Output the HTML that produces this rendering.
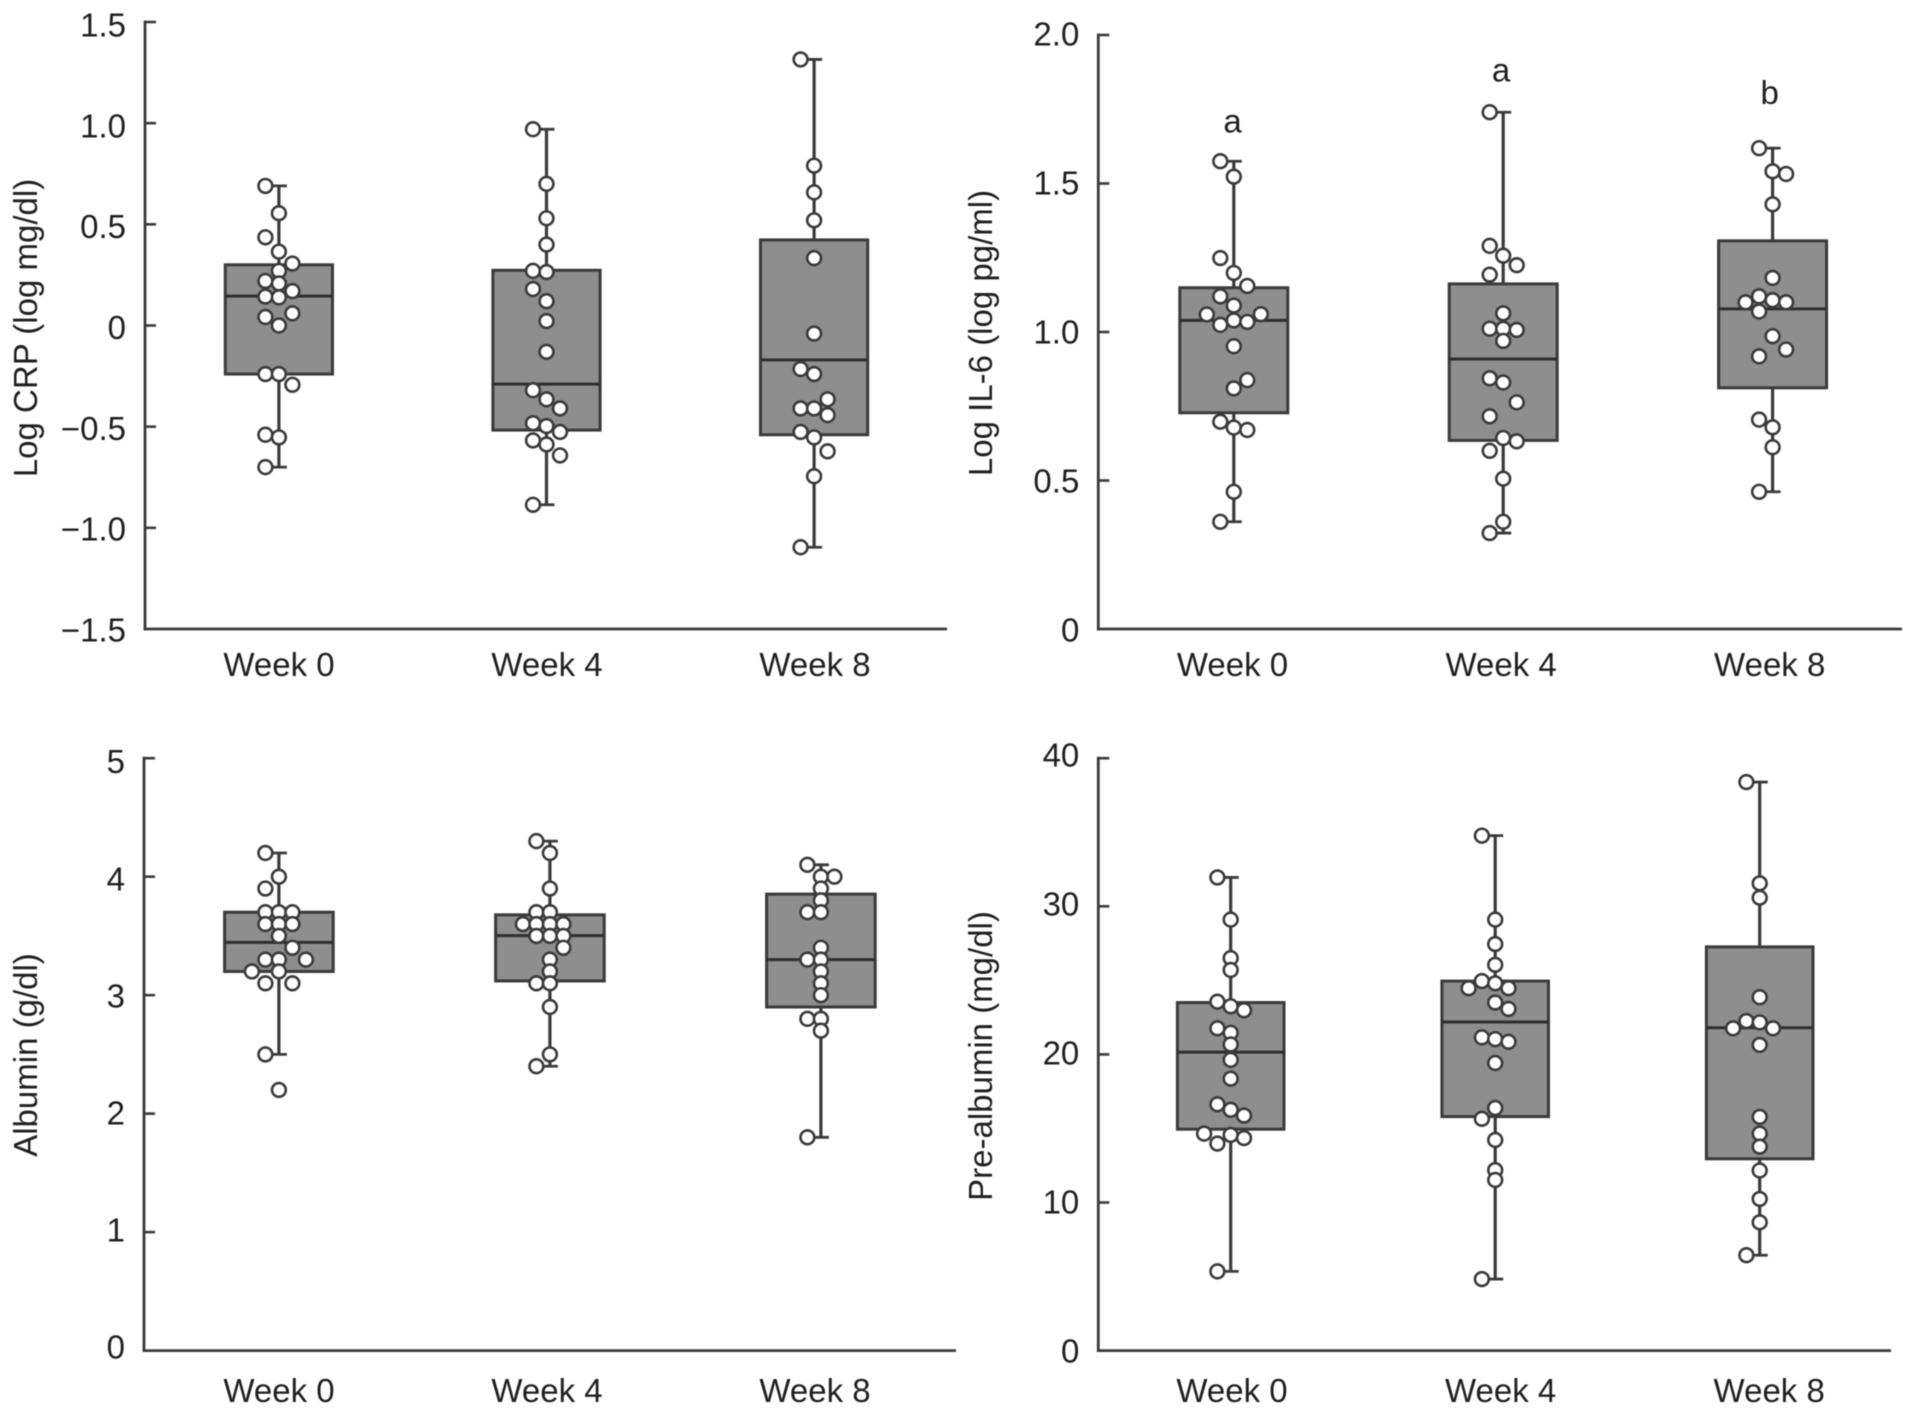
<!DOCTYPE html>
<html lang="en">
<head>
<meta charset="utf-8">
<title>Box plots of CRP, IL-6, albumin and pre-albumin by week</title>
<style>
html,body{margin:0;padding:0;background:#fff;}
svg{display:block;filter:blur(0.5px);}
text{font-family:"Liberation Sans",sans-serif;fill:#1f1f1f;font-size:33px;}
</style>
</head>
<body>
<svg id="figure" xmlns="http://www.w3.org/2000/svg" width="1913" height="1415" viewBox="0 0 1913 1415"></svg>
<script>
const categories = ['Week 0', 'Week 4', 'Week 8'];

// Log CRP
const crpTicks = [-1.5, -1, -0.5, 0, 0.5, 1, 1.5];
const crpTickLabels = ['\u22121.5', '\u22121.0', '\u22120.5', '0', '0.5', '1.0', '1.5'];
const crpQ1 = [-0.24, -0.517, -0.54];
const crpMedian = [0.145, -0.29, -0.17];
const crpQ3 = [0.30, 0.273, 0.423];
const crpWhiskerLow = [-0.70, -0.886, -1.096];
const crpWhiskerHigh = [0.69, 0.97, 1.315];
const crpWeek0 = [0.69, 0.555, 0.436, 0.365, 0.306, 0.27, 0.22, 0.208, 0.17, 0.143, 0.139, 0.06, 0.042, 0, -0.24, -0.24, -0.293, -0.54, -0.553, -0.70];
const crpWeek0Swarm = [-1, 0, -1, 0, 1, 0, -1, 0, 1, -1, 0, 1, -1, 0, -1, 0, 1, -1, 0, -1];
const crpWeek4 = [0.97, 0.70, 0.53, 0.40, 0.27, 0.264, 0.18, 0.12, 0.022, -0.13, -0.32, -0.365, -0.41, -0.483, -0.497, -0.526, -0.568, -0.588, -0.642, -0.886];
const crpWeek4Swarm = [-1, 0, 0, 0, -1, 0, -1, 0, 0, 0, -1, 0, 1, -1, 0, 1, -1, 0, 1, -1];
const crpWeek8 = [1.315, 0.79, 0.658, 0.52, 0.333, -0.04, -0.215, -0.24, -0.365, -0.41, -0.41, -0.443, -0.526, -0.553, -0.622, -0.745, -1.096];
const crpWeek8Swarm = [-1, 0, 0, 0, 0, 0, -1, 0, 1, -1, 0, 1, -1, 0, 1, 0, -1];

// Log IL-6
const il6Ticks = [0, 0.5, 1, 1.5, 2];
const il6TickLabels = ['0', '0.5', '1.0', '1.5', '2.0'];
const il6Q1 = [0.728, 0.635, 0.812];
const il6Median = [1.039, 0.909, 1.078];
const il6Q3 = [1.149, 1.162, 1.307];
const il6WhiskerLow = [0.361, 0.323, 0.462];
const il6WhiskerHigh = [1.575, 1.74, 1.619];
const il6Letters = ['a', 'a', 'b'];
const il6LetterLevels = [1.70, 1.872, 1.796];
const il6Week0 = [1.575, 1.523, 1.249, 1.199, 1.155, 1.12, 1.089, 1.059, 1.06, 1.039, 1.034, 1.024, 0.952, 0.838, 0.81, 0.698, 0.678, 0.67, 0.462, 0.361];
const il6Week0Swarm = [-1, 0, -1, 0, 1, -1, 0, -2, 2, 0, 1, -1, 0, 1, 0, -1, 0, 1, 0, -1];
const il6Week4 = [1.74, 1.29, 1.257, 1.225, 1.193, 1.063, 1.011, 1.011, 1.007, 0.97, 0.844, 0.83, 0.763, 0.716, 0.643, 0.632, 0.60, 0.506, 0.361, 0.323];
const il6Week4Swarm = [-1, -1, 0, 1, -1, 0, -1, 0, 1, 0, -1, 0, 1, -1, 0, 1, -1, 0, 0, -1];
const il6Week8 = [1.619, 1.541, 1.532, 1.43, 1.182, 1.12, 1.107, 1.10, 1.10, 1.069, 0.986, 0.941, 0.918, 0.705, 0.679, 0.612, 0.462];
const il6Week8Swarm = [-1, 0, 1, 0, 0, -1, 0, 1, -2, -1, 0, 1, -1, -1, 0, 0, -1];

// Albumin
const albuminTicks = [0, 1, 2, 3, 4, 5];
const albuminTickLabels = ['0', '1', '2', '3', '4', '5'];
const albuminQ1 = [3.2, 3.12, 2.90];
const albuminMedian = [3.446, 3.503, 3.30];
const albuminQ3 = [3.70, 3.678, 3.853];
const albuminWhiskerLow = [2.5, 2.4, 1.8];
const albuminWhiskerHigh = [4.2, 4.3, 4.1];
const albuminWeek0 = [4.2, 4.0, 3.9, 3.7, 3.7, 3.7, 3.6, 3.6, 3.6, 3.5, 3.4, 3.3, 3.3, 3.3, 3.2, 3.2, 3.1, 3.1, 2.5, 2.2];
const albuminWeek0Swarm = [-1, 0, -1, -1, 0, 1, -1, 0, 1, 0, 1, -1, 0, 2, -2, 0, -1, 1, -1, 0];
const albuminWeek4 = [4.3, 4.2, 3.9, 3.7, 3.7, 3.6, 3.6, 3.6, 3.6, 3.5, 3.5, 3.5, 3.4, 3.3, 3.2, 3.1, 3.1, 2.9, 2.5, 2.4];
const albuminWeek4Swarm = [-1, 0, 0, -1, 0, -2, -1, 0, 1, -1, 0, 1, 1, 0, 0, -1, 0, 0, 0, -1];
const albuminWeek8 = [4.1, 4.0, 4.0, 3.9, 3.8, 3.7, 3.7, 3.4, 3.3, 3.3, 3.2, 3.1, 3.0, 2.8, 2.8, 2.7, 1.8];
const albuminWeek8Swarm = [-1, 0, 1, 0, 0, -1, 0, 0, -1, 0, 0, 0, 0, -1, 0, 0, -1];

// Pre-albumin
const prealbTicks = [0, 10, 20, 30, 40];
const prealbTickLabels = ['0', '10', '20', '30', '40'];
const prealbQ1 = [14.95, 15.8, 12.95];
const prealbMedian = [20.15, 22.19, 21.8];
const prealbQ3 = [23.5, 24.95, 27.26];
const prealbWhiskerLow = [5.35, 4.83, 6.44];
const prealbWhiskerHigh = [31.95, 34.77, 38.39];
const prealbWeek0 = [31.95, 29.1, 26.5, 25.7, 23.56, 23.25, 22.98, 21.76, 21.46, 20.67, 19.63, 18.36, 16.63, 16.26, 15.87, 14.65, 14.56, 14.35, 13.98, 5.35];
const prealbWeek0Swarm = [-1, 0, 0, 0, -1, 0, 1, -1, 0, 0, 0, 0, -1, 0, 1, -2, 0, 1, -1, -1];
const prealbWeek4 = [34.77, 29.1, 27.45, 26.05, 24.95, 24.8, 24.47, 24.47, 23.5, 23.07, 21.15, 21.03, 20.85, 19.42, 16.38, 15.65, 14.22, 12.19, 11.52, 4.83];
const prealbWeek4Swarm = [-1, 0, 0, 0, -1, 0, -2, 1, 0, 1, -1, 0, 1, 0, 0, -1, 0, 0, 0, -1];
const prealbWeek8 = [38.39, 31.55, 30.58, 23.86, 22.25, 22.16, 21.76, 21.76, 20.64, 15.78, 14.65, 13.77, 12.16, 10.24, 8.66, 6.44];
const prealbWeek8Swarm = [-1, 0, 0, 0, -1, 0, -2, 1, 0, 0, 0, 0, 0, 0, 0, -1];

const panels = [
  { key: 'crp', title: 'Log CRP (log mg/dl)', titleX: 37, titleY: 328, axisX: 145, axisEnd: 947, top: 22, bottom: 629,
    dMin: -1.5, dMax: 1.5, c0: 278.9, step: 267.6, half: 53.6, slot: 13.5, labelX0: 279, labelStep: 268, labelBase: 676, dyTop: 14.5, dyBottom: 12.5,
    ticks: crpTicks, tickLabels: crpTickLabels, q1: crpQ1, median: crpMedian, q3: crpQ3, low: crpWhiskerLow, high: crpWhiskerHigh,
    points: [crpWeek0, crpWeek4, crpWeek8], swarm: [crpWeek0Swarm, crpWeek4Swarm, crpWeek8Swarm] },
  { key: 'il6', title: 'Log IL-6 (log pg/ml)', titleX: 992, titleY: 333, axisX: 1098.3, axisEnd: 1902, top: 35, bottom: 629,
    dMin: 0, dMax: 2, c0: 1233.8, step: 269.4, half: 54, slot: 13.5, labelX0: 1232.5, labelStep: 268.6, labelBase: 676, dyTop: 10.5, dyBottom: 12.5,
    ticks: il6Ticks, tickLabels: il6TickLabels, q1: il6Q1, median: il6Median, q3: il6Q3, low: il6WhiskerLow, high: il6WhiskerHigh,
    letters: il6Letters, letterLevels: il6LetterLevels,
    points: [il6Week0, il6Week4, il6Week8], swarm: [il6Week0Swarm, il6Week4Swarm, il6Week8Swarm] },
  { key: 'albumin', title: 'Albumin (g/dl)', titleX: 37, titleY: 1055, axisX: 144, axisEnd: 956, top: 758.2, bottom: 1350.6,
    dMin: 0, dMax: 5, c0: 278.9, step: 271, half: 54.3, slot: 13.5, labelX0: 279, labelStep: 268, labelBase: 1402, dyTop: 15, dyBottom: 8,
    ticks: albuminTicks, tickLabels: albuminTickLabels, q1: albuminQ1, median: albuminMedian, q3: albuminQ3, low: albuminWhiskerLow, high: albuminWhiskerHigh,
    points: [albuminWeek0, albuminWeek4, albuminWeek8], swarm: [albuminWeek0Swarm, albuminWeek4Swarm, albuminWeek8Swarm] },
  { key: 'prealbumin', title: 'Pre-albumin (mg/dl)', titleX: 992, titleY: 1056, axisX: 1098.3, axisEnd: 1891, top: 758.2, bottom: 1350.6,
    dMin: 0, dMax: 40, c0: 1230.7, step: 264.5, half: 53.3, slot: 13.3, labelX0: 1232, labelStep: 268.6, labelBase: 1402, dyTop: 8.5, dyBottom: 12,
    ticks: prealbTicks, tickLabels: prealbTickLabels, q1: prealbQ1, median: prealbMedian, q3: prealbQ3, low: prealbWhiskerLow, high: prealbWhiskerHigh,
    points: [prealbWeek0, prealbWeek4, prealbWeek8], swarm: [prealbWeek0Swarm, prealbWeek4Swarm, prealbWeek8Swarm] }
];

const NS = 'http://www.w3.org/2000/svg';
const INK = '#3a3a3a';
const svg = document.getElementById('figure');

function make(parent, tag, attrs) {
  const node = document.createElementNS(NS, tag);
  for (const k in attrs) node.setAttribute(k, attrs[k]);
  parent.appendChild(node);
  return node;
}

panels.forEach(function (p) {
  const yScale = function (v) { return p.bottom - (v - p.dMin) / (p.dMax - p.dMin) * (p.bottom - p.top); };
  const xScale = function (i) { return p.c0 + i * p.step; };
  const labelDy = function (v) { const f = (v - p.dMin) / (p.dMax - p.dMin); return p.dyBottom + f * (p.dyTop - p.dyBottom); };

  const g = make(svg, 'g', {});
  
  

  const yAxis = make(g, 'line', { x1: p.axisX, x2: p.axisX, y1: p.top - 1.4, y2: p.bottom + 1.4, stroke: INK, 'stroke-width': 2.8 });
  
  

  const xAxis = make(g, 'line', { x1: p.axisX - 1.4, x2: p.axisEnd, y1: p.bottom, y2: p.bottom, stroke: INK, 'stroke-width': 2.8 });
  
  

  p.ticks.forEach(function (t, i) {
    const y = yScale(t);
    if (t !== p.dMin) {
      const tick = make(g, 'line', { x1: p.axisX, x2: p.axisX + 11, y1: y, y2: y, stroke: INK, 'stroke-width': 2.6 });
      
      
    }
    const label = make(g, 'text', { x: p.axisX - 19, y: y + labelDy(t), 'text-anchor': 'end' });
    label.textContent = p.tickLabels[i];
    
    
  });

  const title = make(g, 'text', { x: 0, y: 0, 'text-anchor': 'middle', transform: 'translate(' + p.titleX + ' ' + p.titleY + ') rotate(-90)' });
  title.textContent = p.title;
  
  

  categories.forEach(function (cat, i) {
    const cx = xScale(i);

    const catLabel = make(g, 'text', { x: p.labelX0 + i * p.labelStep, y: p.labelBase, 'text-anchor': 'middle' });
    catLabel.textContent = cat;
    
    

    const whisker = make(g, 'line', { x1: cx, x2: cx, y1: yScale(p.high[i]), y2: yScale(p.low[i]), stroke: INK, 'stroke-width': 3.2 });
    
    

    const capHigh = make(g, 'line', { x1: cx - 8, x2: cx + 8, y1: yScale(p.high[i]), y2: yScale(p.high[i]), stroke: INK, 'stroke-width': 2.8 });
    
    

    const capLow = make(g, 'line', { x1: cx - 8, x2: cx + 8, y1: yScale(p.low[i]), y2: yScale(p.low[i]), stroke: INK, 'stroke-width': 2.8 });
    
    

    const box = make(g, 'rect', { x: cx - p.half, y: yScale(p.q3[i]), width: p.half * 2, height: yScale(p.q1[i]) - yScale(p.q3[i]), fill: '#8e8e8e', stroke: INK, 'stroke-width': 3 });
    
    

    const med = make(g, 'line', { x1: cx - p.half, x2: cx + p.half, y1: yScale(p.median[i]), y2: yScale(p.median[i]), stroke: '#2e2e2e', 'stroke-width': 3 });
    
    

    p.points[i].forEach(function (v, j) {
      const dot = make(g, 'circle', { cx: cx + p.swarm[i][j] * p.slot, cy: yScale(v), r: 6.9, fill: '#fff', stroke: INK, 'stroke-width': 2.6 });
      
      
    });

    if (p.letters) {
      const letter = make(g, 'text', { x: p.labelX0 + i * p.labelStep, y: yScale(p.letterLevels[i]) + 8.5, 'text-anchor': 'middle' });
      letter.textContent = p.letters[i];
      
      
    }
  });
});
</script>
</body>
</html>
